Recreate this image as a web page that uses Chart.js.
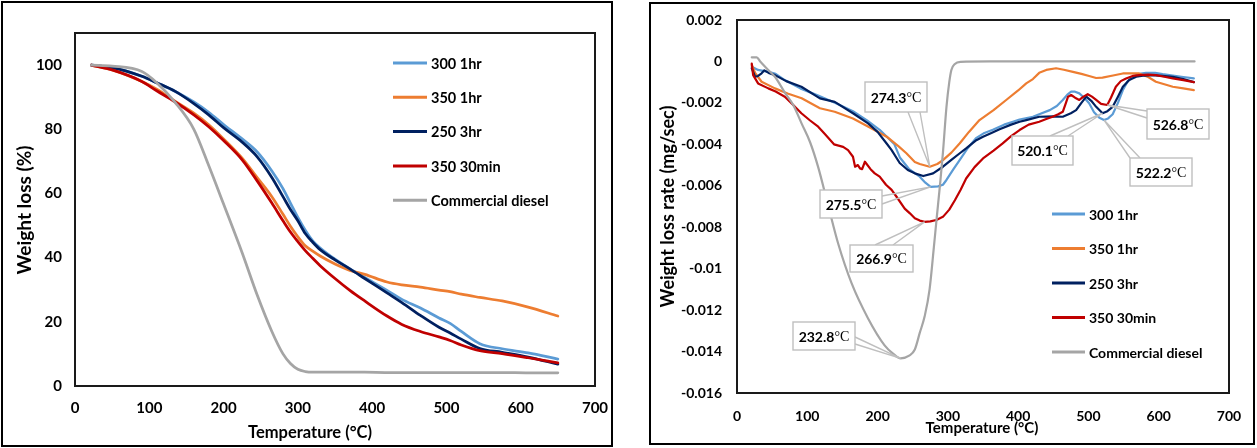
<!DOCTYPE html>
<html>
<head>
<meta charset="utf-8">
<script src="https://cdn.jsdelivr.net/npm/chart.js@4.4.1/dist/chart.umd.min.js"></script>
<style>
  html, body { margin: 0; padding: 0; background: #fff; }
  body { width: 1257px; height: 448px; position: relative; overflow: hidden; }
  .panel { position: absolute; box-sizing: border-box; border: 2px solid #000; }
  #p1 { left: 1px; top: 1px; width: 612px; height: 446px; }
  #p2 { left: 649px; top: 2px; width: 606px; height: 443px; }
  canvas { position: absolute; top: 0; }
  #tga { left: 0; }
  #dtg { left: 650px; }
</style>
</head>
<body>
<div class="panel" id="p1"></div>
<div class="panel" id="p2"></div>
<canvas id="tga" width="613" height="448"></canvas>
<canvas id="dtg" width="607" height="448"></canvas>
<script>
// ---------- series names and colours ----------
const seriesNames = ['300 1hr', '350 1hr', '250 3hr', '350 30min', 'Commercial diesel'];
const seriesColors = ['#5B9BD5', '#ED7D31', '#002060', '#C00000', '#A5A5A5'];

// ---------- TGA: weight remaining (%) vs temperature (°C) ----------
const tgaTemp = [22, 50, 90, 110, 135, 160, 180, 200, 225, 245, 265, 280, 290, 300, 310, 320, 330, 350, 370, 390, 420, 440, 465, 490, 505, 520, 545, 575, 610, 650];
const tga300_1hr   = [100, 99.2, 96.5, 94.5, 91.8, 88.5, 85.3, 81.5, 77, 73, 67, 61.5, 57, 52.5, 48.5, 45.2, 43, 39.5, 36.5, 33.8, 29.8, 27, 24.3, 21.2, 19.5, 17, 13.2, 11.6, 10.3, 8.4];
const tga350_1hr   = [100, 98.5, 94.9, 92.5, 88.7, 85, 81.4, 77, 71, 65, 59, 53.5, 49.8, 46.5, 43.7, 42, 40.5, 38, 36, 34.8, 32.4, 31.5, 30.8, 29.9, 29.4, 28.6, 27.6, 26.5, 24.6, 21.8];
const tga250_3hr   = [100, 99.2, 96.5, 94.5, 91.8, 88, 84.5, 80.5, 76, 71.5, 65, 59, 55, 51.5, 47.5, 44.8, 42.5, 39.3, 36.5, 33.5, 29, 26, 22, 18.3, 16.5, 14.6, 11.7, 10.5, 9, 6.8];
const tga350_30min = [100, 98.5, 94.9, 92, 88.5, 84.5, 80.8, 76.5, 70.5, 64, 57, 51.5, 48, 45, 42.2, 39.8, 37.5, 33.5, 29.8, 26.5, 21.8, 19.2, 17, 15.3, 14.2, 12.8, 11, 10.1, 8.8, 7.2];
const tgaDiesel    = [100, 99.7, 98, 94.5, 88.3, 80, 68.7, 56.7, 41.5, 28.5, 17, 10, 7, 5.2, 4.5, 4.3, 4.3, 4.3, 4.3, 4.3, 4.2, 4.2, 4.2, 4.2, 4.2, 4.2, 4.2, 4.2, 4.1, 4.1];
const tgaXTickLabels = ['0', '100', '200', '300', '400', '500', '600', '700'];
const tgaYTickLabels = ['0', '20', '40', '60', '80', '100'];

// ---------- DTG: weight loss rate (mg/sec) vs temperature (°C) ----------
const dtgTemp300_1hr = [21, 30, 44.5, 55, 68, 90, 115.5, 140, 165, 185, 203, 224, 232, 245, 260, 268, 275.5, 286, 293, 298, 308, 317, 328, 340, 352, 364, 380, 392.5, 402, 421, 430, 445, 455, 463.5, 470, 475.4, 481, 487, 494, 501, 508, 515.6, 522.2, 528, 534.5, 542, 549, 556, 563, 572, 582, 595, 605.6, 620, 635, 650];
const dtgRate300_1hr = [-0.00026, -0.00041, -0.0005, -0.0006, -0.0009, -0.0013, -0.00165, -0.002, -0.0024, -0.00285, -0.0033, -0.004, -0.00465, -0.0052, -0.00556, -0.00585, -0.00605, -0.00603, -0.00595, -0.00572, -0.0052, -0.00475, -0.0042, -0.0037, -0.00345, -0.0033, -0.00305, -0.00291, -0.0028, -0.00267, -0.00255, -0.00235, -0.00215, -0.00186, -0.0016, -0.00146, -0.00146, -0.00154, -0.00175, -0.00202, -0.00245, -0.00272, -0.00283, -0.00275, -0.00255, -0.002, -0.00138, -0.00095, -0.00074, -0.0006, -0.00055, -0.00055, -0.00061, -0.00068, -0.00075, -0.00082];

const dtgTemp350_1hr = [21, 26, 35, 54, 72, 92, 118, 139, 165, 187, 213, 230, 241, 253, 260, 274.3, 285, 293, 305, 317, 330, 345, 365, 383, 400, 411.5, 421, 430, 440, 454, 465, 478, 490, 501, 511, 520, 535, 549, 572, 585, 596, 620, 635, 650];
const dtgRate350_1hr = [-0.00017, -0.00057, -0.00098, -0.0013, -0.00155, -0.00178, -0.00226, -0.00243, -0.00275, -0.00315, -0.00363, -0.0041, -0.00443, -0.00485, -0.00495, -0.00508, -0.00495, -0.00476, -0.0044, -0.00395, -0.0034, -0.00283, -0.00235, -0.00186, -0.0014, -0.00106, -0.00085, -0.00055, -0.00041, -0.00033, -0.0004, -0.0005, -0.0006, -0.0007, -0.0008, -0.00078, -0.00068, -0.00058, -0.00058, -0.00075, -0.00098, -0.00122, -0.0013, -0.00138];

const dtgTemp250_3hr = [21, 25.8, 30, 35, 39, 45, 54, 70, 91.6, 118, 139, 165, 186.5, 200, 212.6, 220, 231.5, 243, 253, 265, 279, 293, 305, 317, 326, 340.5, 350, 362, 373.6, 390, 402, 411.5, 430, 450, 463.5, 475, 482.5, 490, 497, 504, 511, 520.1, 527, 534.5, 542, 549, 558, 568, 580, 591, 605, 620, 635, 650];
const dtgRate250_3hr = [-0.00033, -0.00074, -0.0007, -0.00057, -0.00043, -0.00055, -0.00066, -0.00095, -0.00122, -0.00178, -0.00195, -0.0025, -0.00299, -0.0034, -0.00395, -0.00428, -0.0049, -0.00524, -0.0054, -0.00553, -0.0054, -0.00508, -0.00475, -0.00443, -0.0042, -0.0038, -0.00363, -0.00345, -0.00327, -0.00305, -0.00291, -0.00283, -0.00267, -0.00265, -0.00267, -0.0025, -0.00235, -0.002, -0.0017, -0.0019, -0.00219, -0.0025, -0.0024, -0.00219, -0.0017, -0.00122, -0.0009, -0.00074, -0.00068, -0.00066, -0.0007, -0.00074, -0.00085, -0.001];

const dtgTemp350_30min = [21, 23, 30, 44.5, 55, 68, 80, 91.6, 104, 115.5, 125, 138, 151, 158, 165, 168, 172, 175, 178, 182, 190, 196, 203, 212, 220, 227, 238.6, 246, 253, 260, 266.9, 275, 283.7, 293, 302, 310, 318, 326, 338, 350, 365, 378, 390, 402, 415, 430, 440, 449, 457, 463.5, 468, 471, 475.4, 481, 487, 493, 499, 505, 511, 518, 526.8, 532, 539, 546, 553.5, 563, 572, 585, 596, 608, 620, 635, 650];
const dtgRate350_30min = [-0.0001, -0.00066, -0.00106, -0.0013, -0.00145, -0.0017, -0.0021, -0.0025, -0.00285, -0.00315, -0.0035, -0.004, -0.00412, -0.00428, -0.0046, -0.00508, -0.005, -0.00516, -0.0052, -0.00484, -0.0052, -0.0054, -0.00556, -0.00595, -0.0062, -0.00653, -0.0071, -0.00733, -0.00757, -0.00768, -0.00774, -0.00772, -0.00765, -0.0075, -0.00715, -0.0067, -0.0062, -0.00565, -0.0051, -0.00468, -0.0043, -0.00395, -0.0036, -0.00331, -0.00305, -0.00291, -0.00278, -0.00267, -0.00255, -0.00243, -0.002, -0.0017, -0.00162, -0.00175, -0.00186, -0.0017, -0.00158, -0.0017, -0.00186, -0.00205, -0.0021, -0.00175, -0.00122, -0.00095, -0.00082, -0.0007, -0.00066, -0.00064, -0.00066, -0.00074, -0.00082, -0.0009, -0.001];

const dtgTempDiesel = [21, 28, 33, 44.5, 54, 68, 80, 92, 104, 115.5, 130, 144, 163, 186.5, 210, 222, 232.8, 245, 253, 260, 267, 274, 280, 284, 289, 293, 298, 302, 305, 310, 318, 360, 420, 480, 540, 600, 651];
const dtgRateDiesel = [0.0002, 0.0002, 0, -0.00041, -0.00074, -0.0015, -0.0021, -0.003, -0.0039, -0.0051, -0.007, -0.0088, -0.0107, -0.0124, -0.0137, -0.0141, -0.01433, -0.0142, -0.0139, -0.0131, -0.0123, -0.011, -0.009, -0.0076, -0.0059, -0.0044, -0.0022, -0.001, -0.00041, -0.00012, -0.00002, 0, 0, 0, 0, 0, 0];

const dtgXTickLabels = ['0', '100', '200', '300', '400', '500', '600', '700'];
const dtgYTickLabels = ['-0.016', '-0.014', '-0.012', '-0.01', '-0.008', '-0.006', '-0.004', '-0.002', '0', '0.002'];

// Peak temperatures marked with callouts (series index, temperature)
const dtgPeaks = [
  { series: 1, temp: 274.3 },
  { series: 0, temp: 275.5 },
  { series: 3, temp: 266.9 },
  { series: 4, temp: 232.8 },
  { series: 2, temp: 520.1 },
  { series: 3, temp: 526.8 },
  { series: 0, temp: 522.2 }
];

// ---------- helpers ----------
const FONT = 'Lato, "Open Sans", sans-serif';
const pts = (xs, ys) => xs.map((x, i) => ({ x, y: ys[i] }));
const fixedTicks = labels => scale => { scale.ticks = labels.map(l => ({ value: parseFloat(l) })); };

function makeDatasets(seriesPoints, width, smoothAll) {
  return seriesPoints.map((data, i) => {
    const smooth = smoothAll || i === seriesPoints.length - 1;
    return {
      label: seriesNames[i],
      data,
      borderColor: seriesColors[i],
      backgroundColor: seriesColors[i],
      borderWidth: width,
      pointRadius: 0,
      fill: false,
      tension: smooth ? 0.4 : 0,
      cubicInterpolationMode: smooth ? 'monotone' : 'default',
      borderJoinStyle: 'round',
      borderCapStyle: 'round',
      order: seriesPoints.length - i   // later series painted on top
    };
  });
}

// Frame, legend, axis titles and peak callouts
const panelDecor = {
  id: 'panelDecor',
  afterDatasetsDraw(chart, _args, o) {
    const { ctx, chartArea: a, scales } = chart;
    ctx.save();

    // plot-area frame
    ctx.strokeStyle = o.frameColor;
    ctx.lineWidth = o.frameWidth;
    ctx.strokeRect(a.left, a.top, a.right - a.left, a.bottom - a.top);

    // peak callouts
    (o.callouts || []).forEach(c => {
      const ds = chart.data.datasets[c.series];
      const p = ds.data.find(d => d.x === c.temp);
      const px = scales.x.getPixelForValue(p.x);
      const py = scales.y.getPixelForValue(p.y);
      const [bx, by, bw, bh] = c.box;
      ctx.strokeStyle = '#BFBFBF';
      ctx.lineWidth = 1.4;
      ctx.beginPath();
      c.leader.forEach(([lx, ly]) => { ctx.moveTo(lx, ly); ctx.lineTo(px, py); });
      ctx.stroke();
      ctx.fillStyle = '#fff';
      ctx.fillRect(bx, by, bw, bh);
      ctx.strokeRect(bx, by, bw, bh);
      const num = c.temp.toFixed(1);
      const unit = '\u00B0C';
      ctx.font = 'bold 14px ' + FONT;
      const wNum = ctx.measureText(num).width;
      ctx.font = '14px "Liberation Serif", serif';
      const wUnit = ctx.measureText(unit).width;
      const tx = bx + bw / 2 - (wNum + wUnit) / 2;
      const ty = by + bh / 2 + 1;
      ctx.fillStyle = '#000';
      ctx.textBaseline = 'middle';
      ctx.textAlign = 'left';
      ctx.font = 'bold 14px ' + FONT;
      ctx.fillText(num, tx, ty);
      ctx.font = '14px "Liberation Serif", serif';
      ctx.fillText(unit, tx + wNum, ty);
    });

    // legend
    const L = o.legend;
    ctx.font = 'bold ' + L.size + 'px ' + FONT;
    ctx.textBaseline = 'middle';
    ctx.textAlign = 'left';
    chart.data.datasets.forEach((ds, i) => {
      const y = L.y + i * L.row;
      ctx.strokeStyle = ds.borderColor;
      ctx.lineWidth = L.lineWidth;
      ctx.beginPath();
      ctx.moveTo(L.x, y);
      ctx.lineTo(L.x + L.len, y);
      ctx.stroke();
      ctx.fillStyle = '#000';
      ctx.fillText(ds.label, L.x + L.len + L.gap, y + 1);
    });

    // axis titles
    o.titles.forEach(t => {
      ctx.save();
      ctx.translate(t.x, t.y);
      ctx.rotate(t.rot || 0);
      ctx.font = 'bold ' + t.size + 'px ' + FONT;
      ctx.fillStyle = '#000';
      ctx.textAlign = 'center';
      ctx.textBaseline = 'middle';
      ctx.fillText(t.text, 0, 0);
      ctx.restore();
    });

    ctx.restore();
  }
};

// Axis with fixed band size and no extra label overhang padding
function axis(opts, size, fontSize, pad, labels) {
  const horizontal = opts.position === 'bottom';
  return Object.assign({
    type: 'linear',
    grid: { display: false, drawTicks: false },
    border: { display: false },
    afterBuildTicks: fixedTicks(labels),
    afterFit: s => {
      if (horizontal) { s.height = size; s.paddingLeft = 0; s.paddingRight = 0; }
      else { s.width = size; s.paddingTop = 0; s.paddingBottom = 0; }
    },
    ticks: { color: '#000', padding: pad, font: { family: FONT, weight: 'bold', size: fontSize },
             callback: (v, i) => labels[i] }
  }, opts);
}

function draw() {
  // ---- TGA ----
  new Chart(document.getElementById('tga'), {
    type: 'line',
    data: {
      datasets: makeDatasets([
        pts(tgaTemp, tga300_1hr),
        pts(tgaTemp, tga350_1hr),
        pts(tgaTemp, tga250_3hr),
        pts(tgaTemp, tga350_30min),
        pts(tgaTemp, tgaDiesel)
      ], 2.75, true)
    },
    plugins: [panelDecor],
    options: {
      responsive: false,
      animation: false,
      devicePixelRatio: 1,
      layout: { padding: { top: 33, right: 18, left: 0, bottom: 0 } },
      plugins: {
        legend: { display: false },
        tooltip: { enabled: false },
        panelDecor: {
          frameColor: '#1a1a1a', frameWidth: 2,
          legend: { x: 393, y: 63, row: 34.3, len: 34, gap: 4, lineWidth: 3, size: 14.5 },
          titles: [
            { text: 'Temperature (\u00B0C)', x: 310, y: 433, size: 16.5 },
            { text: 'Weight loss (%)', x: 25, y: 210, size: 19, rot: -Math.PI / 2 }
          ]
        }
      },
      scales: {
        x: axis({ position: 'bottom', min: 0, max: 700 }, 62, 15, 13, tgaXTickLabels),
        y: axis({ position: 'left', min: 0, max: 110 }, 75, 15, 13, tgaYTickLabels)
      }
    }
  });

  // ---- DTG ----
  new Chart(document.getElementById('dtg'), {
    type: 'line',
    data: {
      datasets: makeDatasets([
        pts(dtgTemp300_1hr, dtgRate300_1hr),
        pts(dtgTemp350_1hr, dtgRate350_1hr),
        pts(dtgTemp250_3hr, dtgRate250_3hr),
        pts(dtgTemp350_30min, dtgRate350_30min),
        pts(dtgTempDiesel, dtgRateDiesel)
      ], 2.2, false)
    },
    plugins: [panelDecor],
    options: {
      responsive: false,
      animation: false,
      devicePixelRatio: 1,
      layout: { padding: { top: 20, right: 28, left: 0, bottom: 0 } },
      plugins: {
        legend: { display: false },
        tooltip: { enabled: false },
        panelDecor: {
          frameColor: '#1a1a1a', frameWidth: 2,
          legend: { x: 402, y: 214, row: 34.5, len: 33, gap: 4, lineWidth: 3, size: 14 },
          titles: [
            { text: 'Temperature (\u00B0C)', x: 332, y: 428, size: 15 },
            { text: 'Weight loss rate (mg/sec)', x: 18, y: 206.5, size: 18, rot: -Math.PI / 2 }
          ],
          callouts: [
            { box: [215, 82, 62, 30],  leader: [[258, 112], [270, 112]] },
            { box: [170, 190, 62, 28], leader: [[232, 196], [232, 204]] },
            { box: [200, 245, 63, 27], leader: [[225, 245], [243, 245]] },
            { box: [143, 322, 62, 28], leader: [[205, 337], [205, 344]] },
            { box: [362, 136, 61, 29], leader: [[400, 136], [418, 136]] },
            { box: [497, 109, 62, 30], leader: [[497, 111], [497, 118]] },
            { box: [480, 158, 62, 28], leader: [[480, 158], [490, 158]] }
          ].map((c, i) => Object.assign(c, dtgPeaks[i]))
        }
      },
      scales: {
        x: axis({ position: 'bottom', min: 0, max: 700 }, 55, 14, 15, dtgXTickLabels),
        y: axis({ position: 'left', min: -0.016, max: 0.002 }, 87, 14, 15, dtgYTickLabels)
      }
    }
  });
}

const fontsReady = document.fonts
  ? Promise.all(['bold 15px Lato', '14px "Liberation Serif"'].map(f => document.fonts.load(f)))
  : Promise.resolve();
fontsReady.then(draw, draw);
</script>
</body>
</html>
